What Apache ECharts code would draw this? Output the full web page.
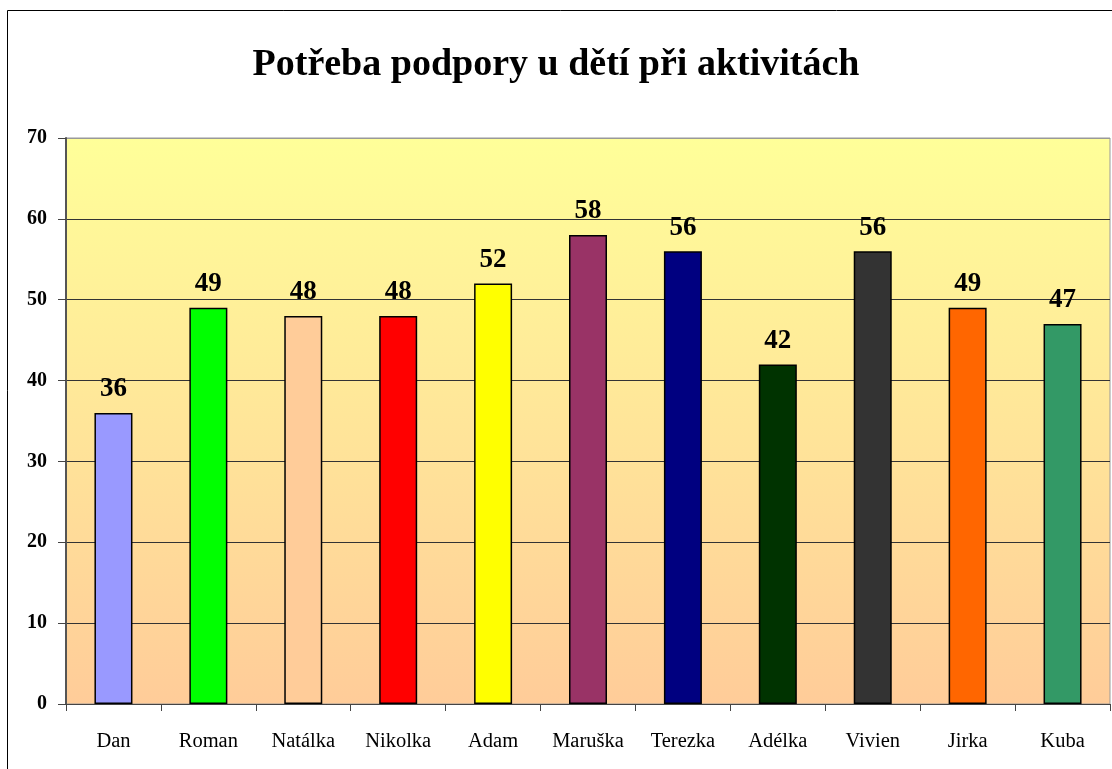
<!DOCTYPE html>
<html>
<head>
<meta charset="utf-8">
<script src="https://cdn.jsdelivr.net/npm/echarts@6/dist/echarts.min.js"></script>
<style>
  html, body { margin: 0; padding: 0; background: #fff; }
  #chart { width: 1112px; height: 769px; }
</style>
</head>
<body>
<div id="chart"></div>
<script>
var names = ['Dan', 'Roman', 'Natálka', 'Nikolka', 'Adam', 'Maruška', 'Terezka', 'Adélka', 'Vivien', 'Jirka', 'Kuba'];
var values = [36, 49, 48, 48, 52, 58, 56, 42, 56, 49, 47];
var barColors = ['#9999FF', '#00FF00', '#FFCC99', '#FF0000', '#FFFF00', '#993366', '#000080', '#003300', '#333333', '#FF6600', '#339966'];

var chart = echarts.init(document.getElementById('chart'));
var font = 'Liberation Serif, Times New Roman, serif';

// gridlines: dark ones inside, grey at the top
var splitColors = ['#333', '#333', '#333', '#333', '#333', '#333', '#333', '#999'];

var option = {
    animation: false,
    backgroundColor: '#fff',
    title: {
        text: 'Potřeba podpory u dětí při aktivitách',
        left: 'center',
        top: 41,
        textStyle: { fontFamily: font, fontSize: 38, fontWeight: 'bold', color: '#000' }
    },
    graphic: [{
        type: 'rect',
        shape: { x: 7.5, y: 10.5, width: 1120, height: 770 },
        style: { fill: null, stroke: '#000', lineWidth: 1 }
    }],
    grid: {
        left: 66, top: 138, right: 2, bottom: 65,
        show: true,
        borderColor: '#999',
        borderWidth: 1,
        backgroundColor: {
            type: 'linear', x: 0, y: 0, x2: 0, y2: 1,
            colorStops: [{ offset: 0, color: '#FFFF99' }, { offset: 1, color: '#FFCC99' }]
        }
    },
    xAxis: {
        type: 'category',
        data: names,
        axisLine: { lineStyle: { color: '#444', width: 1 } },
        axisTick: { show: true, interval: 0, length: 7, lineStyle: { color: '#444' } },
        axisLabel: { interval: 0, margin: 27, fontFamily: font, fontSize: 20.5, color: '#000' }
    },
    yAxis: {
        type: 'value',
        min: 0, max: 70, interval: 10,
        axisLine: { show: true, lineStyle: { color: '#555', width: 2 } },
        axisTick: { show: true, length: 8, lineStyle: { color: '#444' } },
        axisLabel: { margin: 19, fontFamily: font, fontSize: 20, fontWeight: 'bold', color: '#000' },
        splitLine: { show: true, lineStyle: { color: splitColors, width: 1 } }
    },
    series: [{
        type: 'bar',
        barWidth: 38,
        data: values.map(function (v, i) {
            return { value: v, itemStyle: { color: barColors[i] } };
        }),
        itemStyle: { borderColor: '#000', borderWidth: 1.5 },
        label: {
            show: true,
            position: 'top',
            distance: 10,
            fontFamily: font,
            fontSize: 27,
            fontWeight: 'bold',
            color: '#000'
        }
    }]
};

chart.setOption(option);
</script>
</body>
</html>
